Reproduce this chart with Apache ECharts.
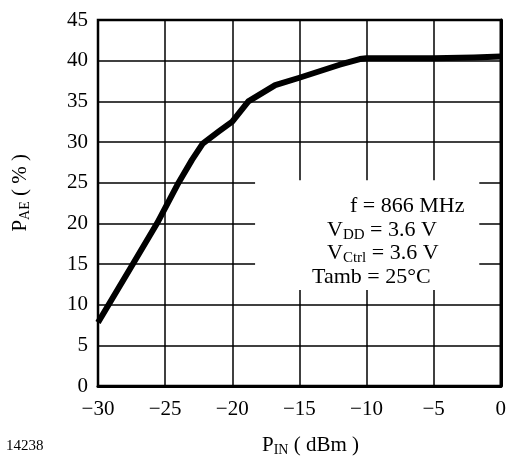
<!DOCTYPE html>
<html><head><meta charset="utf-8">
<script src="https://cdn.jsdelivr.net/npm/echarts@6/dist/echarts.min.js"></script>
<style>html,body{margin:0;padding:0;background:#fff}#c{width:509px;height:456px}</style>
</head><body><div id="c"></div>
<script>
const pinDbm = [-30, -27.4, -25.6, -24, -23, -22.2, -21, -20, -18.8, -16.8, -15, -12, -10.5, -10, -5, -2, 0];
const paePct = [7.8, 15, 20, 25, 27.8, 29.8, 31.3, 32.5, 35, 37, 37.9, 39.5, 40.2, 40.3, 40.3, 40.4, 40.5];
const xTicks = [-30, -25, -20, -15, -10, -5, 0];
const yTicks = [0, 5, 10, 15, 20, 25, 30, 35, 40, 45];
const boxX = [-18.3, -1.6];
const boxY = [11.8, 25.3];

const F = '"Liberation Serif", "Times New Roman", serif';
const chart = echarts.init(document.getElementById('c'));
const sub = { fontFamily: F, fontSize: 15, padding: [10, 0, 0, 0], fill: '#000' };
const main = { fontFamily: F, fontSize: 22, fill: '#000' };
const subT = { fontFamily: F, fontSize: 14, padding: [9, 0, 0, 0], fill: '#000' };
const mainT = { fontFamily: F, fontSize: 21, fill: '#000' };
chart.setOption({
  animation: false,
  backgroundColor: '#fff',
  grid: { left: 98, right: 8, top: 20, bottom: 70, show: true, borderColor: '#000', borderWidth: 2.5, backgroundColor: 'transparent' },
  xAxis: {
    type: 'value', min: -30, max: 0, interval: 5,
    axisLine: { show: true, lineStyle: { color: '#000', width: 3 } },
    axisTick: { show: false },
    splitLine: { show: true, lineStyle: { color: '#000', width: 1.5 } },
    axisLabel: { color: '#000', fontFamily: F, fontSize: 21, margin: 13,
      formatter: v => xTicks.includes(v) ? (v < 0 ? '\u2212' + Math.abs(v) : String(v)) : '' }
  },
  yAxis: {
    type: 'value', min: 0, max: 45, interval: 5,
    axisLine: { show: true, lineStyle: { color: '#000', width: 3 } },
    axisTick: { show: false },
    splitLine: { show: true, lineStyle: { color: '#000', width: 1.5 } },
    axisLabel: { color: '#000', fontFamily: F, fontSize: 21, margin: 10,
      formatter: v => yTicks.includes(v) ? String(v) : '' }
  },
  series: [{
    type: 'line',
    data: pinDbm.map((x, i) => [x, paePct[i]]),
    symbol: 'none',
    lineStyle: { color: '#000', width: 6, cap: 'butt', join: 'round' },
    markArea: {
      silent: true,
      itemStyle: { color: '#fff' },
      data: [[{ coord: [boxX[0], boxY[0]] }, { coord: [boxX[1], boxY[1]] }]]
    },
    z: 3
  }],
  graphic: [
    { type: 'text', left: 350, top: 195, z: 10, style: { text: 'f = 866 MHz', font: '22px ' + F, fill: '#000' } },
    { type: 'text', left: 327, top: 219, z: 10, style: { text: '{m|V}{s|DD}{m| = 3.6 V}', rich: { m: main, s: sub } } },
    { type: 'text', left: 327, top: 242, z: 10, style: { text: '{m|V}{s|Ctrl}{m| = 3.6 V}', rich: { m: main, s: sub } } },
    { type: 'text', left: 312, top: 266, z: 10, style: { text: 'Tamb = 25\u00B0C', font: '22px ' + F, fill: '#000' } },
    { type: 'text', left: 262, top: 435, z: 10, style: { text: '{m|P}{s|IN}{m| ( dBm )}', rich: { m: mainT, s: subT } } },
    { type: 'text', left: 10, top: 154, rotation: Math.PI / 2, z: 10, style: { text: '{m|P}{s|AE}{m| ( % )}', rich: { m: mainT, s: subT } } },
    { type: 'text', left: 6, top: 439, z: 10, style: { text: '14238', font: '15px ' + F, fill: '#000' } }
  ]
});
</script></body></html>
